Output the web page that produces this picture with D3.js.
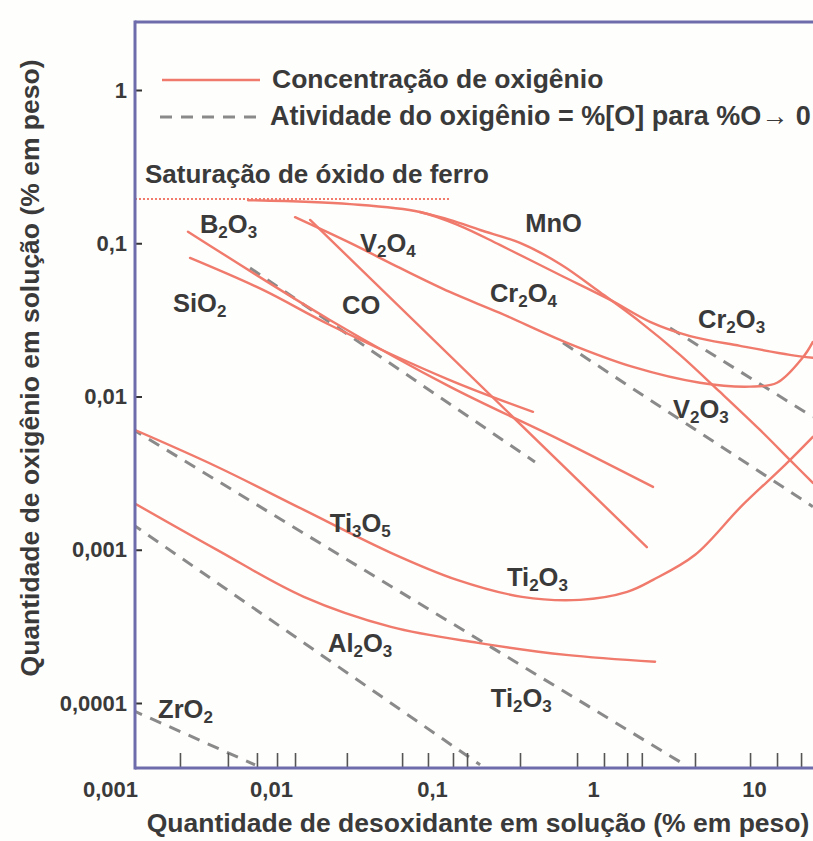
<!DOCTYPE html>
<html><head><meta charset="utf-8">
<script src="https://cdn.jsdelivr.net/npm/d3@7"></script>
<style>
body{margin:0;background:#fff}
svg{display:block}
text{font-family:"Liberation Sans",Arial,sans-serif;font-weight:bold;fill:#3a3a3a}
</style>
</head><body>
<svg id="c" width="813" height="841"></svg>
<script>
// ---------- data (x = % deoxidant, y = % oxygen) ----------
const xLabelValues = [0.001, 0.01, 0.1, 1, 10];
const xLabelTexts = ["0,001", "0,01", "0,1", "1", "10"];
const xMinorTicks = [0.00272, 0.0054, 0.00818, 0.0109, 0.0141, 0.0296, 0.0652, 0.0944, 0.135, 0.165, 0.352, 0.796, 1.17, 1.63, 2.01, 4.30, 9.45, 13.9, 19.6];
const yTickValues = [1, 0.1, 0.01, 0.001, 0.0001];
const yTickTexts = ["1", "0,1", "0,01", "0,001", "0,0001"];

const crCurve = [[0.0072,0.191],[0.031,0.180],[0.0841,0.160],[0.149,0.130],[0.264,0.0975],[0.624,0.0621],[1.28,0.0427],[2.26,0.0307],[4.01,0.0248],[8.19,0.0214],[16.7,0.0187],[23.2,0.0179]];
const mnoCurve = [[0.0841,0.160],[0.129,0.142],[0.199,0.122],[0.352,0.1005],[0.624,0.0733],[1.10,0.0481],[1.96,0.0307],[3.47,0.0187],[6.15,0.0107],[10.9,0.00605],[16.7,0.00386],[23.2,0.00273]];
const vCurve = [[0.0141,0.148],[0.031,0.1005],[0.0632,0.069],[0.129,0.0481],[0.264,0.0351],[0.69,0.0224],[1.77,0.0156],[4.62,0.0123],[9.45,0.0116],[13.9,0.0123],[20.2,0.0181],[23.2,0.0227]];
const coCurve = [[0.0175,0.142],[2.16,0.00104]];
const b2o3Curve = [[0.00305,0.119],[0.0232,0.0316],[0.129,0.0116],[0.624,0.00521],[2.36,0.00257]];
const sio2Curve = [[0.00314,0.0802],[0.00892,0.0496],[0.0232,0.0293],[0.129,0.0128],[0.424,0.00794]];
const tiCurve = [[0.00135,0.0062],[0.00462,0.00348],[0.016,0.00182],[0.0556,0.000955],[0.143,0.000636],[0.362,0.000493],[0.83,0.000471],[1.63,0.000531],[2.36,0.000636],[4.31,0.000927],[8.30,0.00191],[15.6,0.00358],[23.2,0.00545]];
const al2o3Curve = [[0.00135,0.00207],[0.00462,0.000998],[0.016,0.000493],[0.0556,0.000314],[0.193,0.000247],[0.68,0.000206],[2.43,0.000186]];

const tiActivity = [[0.00135,0.0062],[3.47,0.0000413]];
const alActivity = [[0.00135,0.00149],[0.199,0.0000395]];
const zrActivity = [[0.00135,0.0000905],[0.00796,0.0000395]];
const siActivity = [[0.00741,0.069],[0.436,0.00374]];
const vActivity = [[0.651,0.0224],[23.2,0.00191]];
const crActivity = [[3.01,0.028],[23.2,0.00736]];
const feoSaturation = [[0.00135,0.1945],[0.13,0.1945]];

const oxideLabels = ["B2O3","V2O4","SiO2","CO","MnO","Cr2O4","Cr2O3","V2O3","Ti3O5","Ti2O3","Al2O3","Ti2O3","ZrO2"];
const oxideLabelAt = [[0.00362,0.1167],[0.0357,0.0878],[0.00246,0.0356],[0.0276,0.0346],[0.379,0.1185],[0.229,0.0414],[4.49,0.028],[3.14,0.00725],[0.0232,0.00131],[0.292,0.000581],[0.0226,0.000216],[0.232,0.0000944],[0.00199,0.000080]];

// ---------- drawing ----------
const svg = d3.select("#c");
const W = 813, H = 841;
const padL = 135, padT = 22, padB = 768, padR = 813;
const red = "#f07a6c", gray = "#8a8a8a", spine = "#6f6cab";
const FONT = '"Liberation Sans",Arial,sans-serif';

const x = d3.scaleLog().domain([0.001, 10]).range([110, 754]);
const y = d3.scaleLog().domain([0.0001, 1]).range([703, 90]);

svg.append("rect").attr("width", W).attr("height", H).attr("fill", "#fefefc");

svg.append("clipPath").attr("id", "plot")
  .append("rect").attr("x", padL).attr("y", padT).attr("width", padR - padL).attr("height", padB - padT);

const g = svg.append("g").attr("clip-path", "url(#plot)");
const line = d3.line().x(d => x(d[0])).y(d => y(d[1])).curve(d3.curveCatmullRom.alpha(0.5));

// dashed activity lines
[tiActivity, alActivity, zrActivity, siActivity, vActivity, crActivity].forEach(d => {
  g.append("path").datum(d).attr("d", line).attr("fill", "none")
    .attr("stroke", gray).attr("stroke-width", 3).attr("stroke-dasharray", "12,9");
});
// iron oxide saturation (dotted)
g.append("path").datum(feoSaturation).attr("d", line).attr("fill", "none")
  .attr("stroke", red).attr("stroke-width", 2).attr("stroke-dasharray", "2,2");
// concentration curves
[crCurve, mnoCurve, vCurve, coCurve, b2o3Curve, sio2Curve, tiCurve, al2o3Curve].forEach(d => {
  g.append("path").datum(d).attr("d", line).attr("fill", "none")
    .attr("stroke", red).attr("stroke-width", 2.4).attr("stroke-linecap", "round");
});

// axes
const xAxis = svg.append("g").attr("transform", `translate(0,${padB})`)
  .call(d3.axisBottom(x).tickValues(xMinorTicks).tickSize(-15).tickFormat(""));
xAxis.select(".domain").remove();
xAxis.selectAll("line").attr("stroke", "#555").attr("stroke-width", 1.6);

const xLab = svg.append("g").attr("transform", `translate(0,${padB})`)
  .call(d3.axisBottom(x).tickValues(xLabelValues).tickSize(0).tickPadding(13)
    .tickFormat((d, i) => xLabelTexts[i]));
xLab.select(".domain").remove();
xLab.selectAll("text").attr("font-size", 22).attr("fill", "#3a3a3a")
  .attr("font-family", FONT).attr("font-weight", "bold");

const yAx = svg.append("g").attr("transform", `translate(${padL},0)`)
  .call(d3.axisLeft(y).tickValues(yTickValues).tickSize(-7).tickPadding(8)
    .tickFormat((d, i) => yTickTexts[i]));
yAx.select(".domain").remove();
yAx.selectAll("line").attr("stroke", "#333").attr("stroke-width", 2);
yAx.selectAll("text").attr("font-size", 22).attr("fill", "#3a3a3a")
  .attr("font-family", FONT).attr("font-weight", "bold");

// frame
svg.append("line").attr("x1", padL).attr("x2", padR).attr("y1", padT).attr("y2", padT)
  .attr("stroke", spine).attr("stroke-width", 3);
svg.append("line").attr("x1", padL).attr("x2", padL).attr("y1", padT - 1.5).attr("y2", padB + 1.5)
  .attr("stroke", spine).attr("stroke-width", 3);
svg.append("line").attr("x1", padL).attr("x2", padR).attr("y1", padB).attr("y2", padB)
  .attr("stroke", spine).attr("stroke-width", 3);

// axis titles
svg.append("text").attr("x", 478).attr("y", 832).attr("text-anchor", "middle")
  .attr("font-size", 26.5).text("Quantidade de desoxidante em solução (% em peso)");
svg.append("text").attr("transform", "translate(39,368) rotate(-90)").attr("text-anchor", "middle")
  .attr("font-size", 26.5).text("Quantidade de oxigênio em solução (% em peso)");

// legend
svg.append("line").attr("x1", 162).attr("x2", 260).attr("y1", 80).attr("y2", 80)
  .attr("stroke", red).attr("stroke-width", 2.4);
svg.append("text").attr("x", 272).attr("y", 88).attr("font-size", 26.5).text("Concentração de oxigênio");
svg.append("line").attr("x1", 160).attr("x2", 260).attr("y1", 117).attr("y2", 117)
  .attr("stroke", gray).attr("stroke-width", 3).attr("stroke-dasharray", "12,9");
svg.append("text").attr("x", 270).attr("y", 125).attr("font-size", 27).text("Atividade do oxigênio = %[O] para %O\u2192 0");

// saturation label
svg.append("text").attr("x", 145).attr("y", 183).attr("font-size", 26).text("Saturação de óxido de ferro");

// oxide labels with subscripted digits
oxideLabels.forEach((lab, i) => {
  const t = svg.append("text").attr("x", x(oxideLabelAt[i][0])).attr("y", y(oxideLabelAt[i][1]))
    .attr("font-size", 25.5);
  let sub = false;
  lab.match(/\d+|\D+/g).forEach(part => {
    const isNum = /\d/.test(part);
    const ts = t.append("tspan").text(part);
    if (isNum) { ts.attr("font-size", 17).attr("dy", sub ? 0 : 5); sub = true; }
    else { ts.attr("dy", sub ? -5 : 0); sub = false; }
  });
});
</script>
</body></html>
